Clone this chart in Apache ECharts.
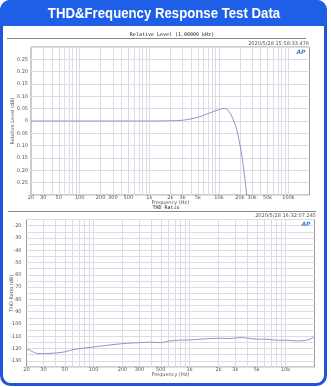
<!DOCTYPE html>
<html><head><meta charset="utf-8">
<script src="https://cdn.jsdelivr.net/npm/echarts@6/dist/echarts.min.js"></script>
<style>html,body{margin:0;padding:0;background:#fff;}#c{width:331px;height:387px;}</style>
</head><body><div id="c"></div>
<script>
// ---- data ----
const headerTitle = 'THD&Frequency Response Test Data';
const topTitle = 'Relative Level (1.00000 kHz)';
const topStamp = '2020/5/28 15:58:33.476';
const botTitle = 'THD Ratio';
const botStamp = '2020/5/28 16:32:07.245';
const topYName = 'Relative Level (dB)';
const botYName = 'THD Ratio (dB)';
const xName = 'Frequency (Hz)';

const freqTop = [20, 50, 100, 200, 500, 1000, 2000, 3000, 5000, 7400, 10000, 11000, 12000, 13000, 14000, 15000, 17300, 19700, 22000, 25100, 28000];
const levelTop = [0, 0, 0, 0, 0, 0, 0.001, 0.003, 0.015, 0.033, 0.046, 0.05, 0.051, 0.048, 0.038, 0.024, -0.017, -0.085, -0.167, -0.30, -0.45];

const freqBot = [20, 23.4, 26.4, 31, 38, 50, 59, 72, 100, 147, 200, 300, 400, 500, 620, 790, 1000, 1280, 1620, 2060, 2620, 3330, 3920, 4980, 6330, 8040, 10200, 13000, 16500, 18500, 20000];
const thdBot = [-120, -122.7, -124, -124, -123.8, -122.7, -121.1, -120, -118.7, -117.1, -116, -115.2, -114.8, -115.2, -113.8, -113.2, -113, -112.4, -111.9, -111.6, -111.9, -111.1, -111.4, -112.4, -112.4, -113.2, -113.2, -113.8, -113.2, -112, -109.8];

const gridFreqTop = [30,40,50,60,70,80,90,100,200,300,400,500,600,700,800,900,1000,2000,3000,4000,5000,6000,7000,8000,9000,10000,20000,30000,40000,50000,60000,70000,80000,90000,100000];
const labelFreqTop = [20,30,50,100,200,300,500,1000,2000,3000,5000,10000,20000,30000,50000,100000];
const gridFreqBot = [30,40,50,60,70,80,90,100,200,300,400,500,600,700,800,900,1000,2000,3000,4000,5000,6000,7000,8000,9000,10000];
const labelFreqBot = [20,30,50,100,200,300,500,1000,2000,3000,5000,10000];
const topYTicks = [0.25,0.2,0.15,0.1,0.05,0,-0.05,-0.1,-0.15,-0.2,-0.25];
const botYTicks = [-20,-30,-40,-50,-60,-70,-80,-90,-100,-110,-120,-130];

// ---- chart ----
const L = Math.log10;
const fmtF = v => { const f = Math.round(Math.pow(10, v)); return f >= 1000 ? (f/1000) + 'k' : String(f); };
const fmtTop = v => { const r = Math.round(v*100)/100; return r === 0 ? '0' : r.toFixed(2); };
const lab = {fontSize: 5, color: '#555', fontFamily: 'DejaVu Sans'};
const nameStyle = {fontSize: 5, color: '#555', fontFamily: 'DejaVu Sans'};
const gridColor = '#dcdce6';
const lineColor = '#9094c8';
const vGrid = freqs => ({silent: true, symbol: 'none', animation: false,
  label: {show: false}, lineStyle: {color: gridColor, width: 1, type: 'solid'},
  emphasis: {disabled: true}, data: freqs.map(f => ({xAxis: L(f)}))});

const chart = echarts.init(document.getElementById('c'), null, {renderer: 'canvas'});
chart.setOption({
  animation: false,
  grid: [
    {left: 31, top: 47, width: 278.5, height: 148, show: true, borderColor: '#9a9a9a', borderWidth: 1, backgroundColor: '#fff', containLabel: false, outerBoundsMode: 'none'},
    {left: 26.5, top: 219.5, width: 288, height: 147.5, show: true, borderColor: '#9a9a9a', borderWidth: 1, backgroundColor: '#fff', containLabel: false, outerBoundsMode: 'none'}
  ],
  xAxis: [
    {gridIndex: 0, type: 'value', min: L(20), max: L(200000),
     axisLine: {show: false}, axisTick: {show: false},
     axisLabel: Object.assign({customValues: labelFreqTop.map(L), formatter: fmtF, margin: 0.5}, lab),
     splitLine: {show: false},
     name: xName, nameLocation: 'middle', nameGap: 5.5, nameMoveOverlap: false, nameTextStyle: nameStyle},
    {gridIndex: 1, type: 'value', min: L(20), max: L(20000),
     axisLine: {show: false}, axisTick: {show: false},
     axisLabel: Object.assign({customValues: labelFreqBot.map(L), formatter: fmtF, margin: 0.5}, lab),
     splitLine: {show: false},
     name: xName, nameLocation: 'middle', nameGap: 5.5, nameMoveOverlap: false, nameTextStyle: nameStyle}
  ],
  yAxis: [
    {gridIndex: 0, type: 'value', min: -0.3, max: 0.3, interval: 0.05,
     axisLine: {show: false}, axisTick: {show: false},
     axisLabel: Object.assign({customValues: topYTicks, formatter: fmtTop, margin: 3}, lab),
     splitLine: {show: true, lineStyle: {color: gridColor, width: 1}},
     name: topYName, nameLocation: 'middle', nameGap: 16, nameMoveOverlap: false, nameRotate: 90, nameTextStyle: nameStyle},
    {gridIndex: 1, type: 'value', min: -135, max: -15, interval: 5,
     axisLine: {show: false}, axisTick: {show: false},
     axisLabel: Object.assign({customValues: botYTicks, margin: 5}, lab),
     splitLine: {show: true, lineStyle: {color: [gridColor]}},
     name: botYName, nameLocation: 'middle', nameGap: 12, nameMoveOverlap: false, nameRotate: 90, nameTextStyle: nameStyle}
  ],
  series: [
    {type: 'line', xAxisIndex: 0, yAxisIndex: 0, z: 1, showSymbol: false, silent: true,
     lineStyle: {opacity: 0}, data: freqTop.map((f, i) => [L(f), levelTop[i]]), markLine: vGrid(gridFreqTop)},
    {type: 'line', xAxisIndex: 1, yAxisIndex: 1, z: 1, showSymbol: false, silent: true,
     lineStyle: {opacity: 0}, data: freqBot.map((f, i) => [L(f), thdBot[i]]), markLine: vGrid(gridFreqBot)},
    {type: 'line', xAxisIndex: 0, yAxisIndex: 0, z: 5, showSymbol: false, smooth: 0.3, clip: true,
     lineStyle: {color: lineColor, width: 1}, data: freqTop.map((f, i) => [L(f), levelTop[i]])},
    {type: 'line', xAxisIndex: 1, yAxisIndex: 1, z: 5, showSymbol: false, smooth: 0.3, clip: true,
     lineStyle: {color: lineColor, width: 1}, data: freqBot.map((f, i) => [L(f), thdBot[i]])}
  ],
  graphic: [
    {type: 'rect', z: -10, shape: {x: 1.5, y: 1.5, width: 324, height: 383, r: 9}, style: {fill: '#fff', stroke: '#1f56d8', lineWidth: 3}},
    {type: 'rect', z: -9, shape: {x: 0, y: 0, width: 327, height: 26, r: [10, 10, 0, 0]}, style: {fill: '#1f5ee6'}},
    {type: 'text', z: 10, x: 164, y: 13.5, scaleX: 0.88, style: {text: headerTitle, fill: '#fff', font: 'bold 15px "Liberation Sans", Arial, sans-serif', align: 'center', verticalAlign: 'middle'}},
    {type: 'line', z: 1, shape: {x1: 7, y1: 38.5, x2: 306, y2: 38.5}, style: {stroke: '#888', lineWidth: 1}},
    {type: 'text', z: 10, x: 172, y: 37.5, style: {text: topTitle, fill: '#222', font: '5px "DejaVu Sans Mono", monospace', align: 'center', verticalAlign: 'bottom'}},
    {type: 'text', z: 10, x: 309, y: 44, style: {text: topStamp, fill: '#555', font: '5px "DejaVu Sans", sans-serif', align: 'right', verticalAlign: 'middle'}},
    {type: 'text', z: 10, x: 301, y: 52.5, style: {text: 'AP', fill: '#3a7fd0', font: 'italic bold 6px "DejaVu Sans", sans-serif', align: 'center', verticalAlign: 'middle'}},
    {type: 'line', z: 1, shape: {x1: 8, y1: 211.5, x2: 316, y2: 211.5}, style: {stroke: '#888', lineWidth: 1}},
    {type: 'text', z: 10, x: 166, y: 210.5, style: {text: botTitle, fill: '#222', font: '5px "DejaVu Sans Mono", monospace', align: 'center', verticalAlign: 'bottom'}},
    {type: 'text', z: 10, x: 316, y: 216, style: {text: botStamp, fill: '#555', font: '5px "DejaVu Sans", sans-serif', align: 'right', verticalAlign: 'middle'}},
    {type: 'text', z: 10, x: 306, y: 224, style: {text: 'AP', fill: '#3a7fd0', font: 'italic bold 6px "DejaVu Sans", sans-serif', align: 'center', verticalAlign: 'middle'}}
  ]
});
</script></body></html>
